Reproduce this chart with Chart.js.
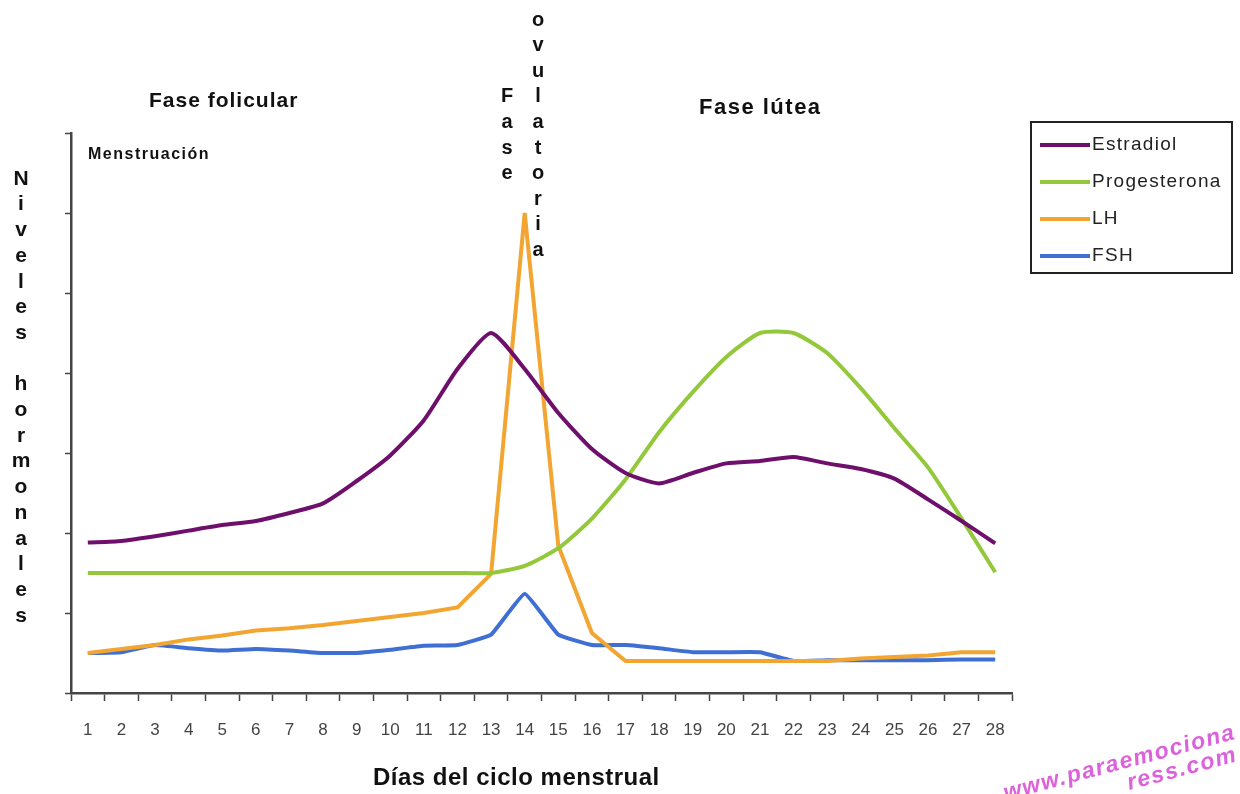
<!DOCTYPE html>
<html>
<head>
<meta charset="utf-8">
<script src="https://cdn.jsdelivr.net/npm/chart.js@4.4.1/dist/chart.umd.min.js"></script>
<style>
    html, body { margin: 0; padding: 0; background: #fff; }
    #wrap { width: 1240px; height: 794px; }
</style>
</head>
<body>
<div id="wrap"><canvas id="hormonas" width="1240" height="794"></canvas></div>
<script>
const days = ['1','2','3','4','5','6','7','8','9','10','11','12','13','14','15','16','17','18','19','20','21','22','23','24','25','26','27','28'];

const estradiol = [1.88, 1.9, 1.96, 2.03, 2.1, 2.15, 2.25, 2.37, 2.65, 2.97, 3.41, 4.05, 4.5, 4.05,
                   3.5, 3.05, 2.75, 2.62, 2.75, 2.87, 2.9, 2.95, 2.87, 2.8, 2.68, 2.42, 2.15, 1.87];
const progesterona = [1.5, 1.5, 1.5, 1.5, 1.5, 1.5, 1.5, 1.5, 1.5, 1.5, 1.5, 1.5, 1.5, 1.59,
                      1.81, 2.18, 2.67, 3.26, 3.76, 4.2, 4.5, 4.5, 4.25, 3.81, 3.31, 2.82, 2.18, 1.51];
const lh = [0.5, 0.55, 0.6, 0.67, 0.72, 0.78, 0.81, 0.85, 0.9, 0.95, 1.0, 1.07, 1.49, 6.0,
            1.84, 0.75, 0.4, 0.4, 0.4, 0.4, 0.4, 0.4, 0.4, 0.43, 0.45, 0.47, 0.51, 0.51];
const fsh = [0.5, 0.51, 0.6, 0.56, 0.53, 0.55, 0.53, 0.5, 0.5, 0.54, 0.59, 0.6, 0.73, 1.24,
             0.73, 0.6, 0.6, 0.56, 0.51, 0.51, 0.51, 0.4, 0.41, 0.41, 0.41, 0.41, 0.42, 0.42];

const seriesLabels = ['Estradiol', 'Progesterona', 'LH', 'FSH'];
const seriesColors = ['#6e0f6c', '#93c83a', '#f2a531', '#3f6fd2'];
const seriesData = [estradiol, progesterona, lh, fsh];
const seriesTension = [0.2, 0.2, 0, 0.1];

const FONT = 'Arial, "Liberation Sans"';

// Texts drawn on top of the chart (titles, stacked letters, legend)
const textPlugin = {
    id: 'textPlugin',
    afterDraw(chart)
    {
        const { ctx } = chart;
        ctx.save();
        ctx.fillStyle = '#111';
        ctx.textAlign = 'left';
        ctx.textBaseline = 'middle';

        ctx.font = 'bold 21px ' + FONT;
        ctx.letterSpacing = '1px';
        ctx.fillText('Fase folicular', 149, 101);
        ctx.font = 'bold 22px ' + FONT;
        ctx.letterSpacing = '1.5px';
        ctx.fillText('Fase lútea', 699, 108);

        ctx.font = 'bold 16px ' + FONT;
        ctx.letterSpacing = '1.5px';
        ctx.fillText('Menstruación', 88, 155);
        ctx.letterSpacing = '0px';

        // vertical stacked y title
        ctx.textAlign = 'center';
        ctx.font = 'bold 21px ' + FONT;
        const yTitle = 'Niveles hormonales';
        for (let i = 0; i < yTitle.length; i++)
        {
            ctx.fillText(yTitle[i], 21, 179 + i * 25.7);
        }

        // vertical "Fase ovulatoria"
        ctx.font = 'bold 20px ' + FONT;
        const ovu = 'ovulatoria';
        for (let i = 0; i < ovu.length; i++)
        {
            ctx.fillText(ovu[i], 538, 20 + i * 25.6);
        }
        const fase = 'Fase';
        for (let i = 0; i < fase.length; i++)
        {
            ctx.fillText(fase[i], 507, 20 + (i + 3) * 25.6);
        }

        // x title
        ctx.textAlign = 'left';
        ctx.font = 'bold 24px ' + FONT;
        ctx.letterSpacing = '0.5px';
        ctx.fillText('Días del ciclo menstrual', 373, 778);

        // legend box
        ctx.strokeStyle = '#222';
        ctx.lineWidth = 2;
        ctx.strokeRect(1031, 122, 201, 151);
        ctx.font = '19px ' + FONT;
        ctx.letterSpacing = '1.3px';
        const rows = [145, 182, 219, 256];
        chart.data.datasets.forEach((ds, i) =>
        {
            ctx.strokeStyle = ds.borderColor;
            ctx.lineWidth = 4;
            ctx.beginPath();
            ctx.moveTo(1040, rows[i]);
            ctx.lineTo(1090, rows[i]);
            ctx.stroke();
            ctx.fillStyle = '#222';
            ctx.fillText(ds.label, 1092, rows[i]);
        });

        // watermark
        ctx.letterSpacing = '1.5px';
        ctx.translate(1004, 794);
        ctx.rotate(-0.26);
        ctx.fillStyle = 'rgba(214, 70, 214, 0.85)';
        ctx.font = 'italic bold 23px ' + FONT;
        ctx.fillText('www.paraemociona', 0, 0);
        ctx.fillText('ress.com', 122, 22);

        ctx.restore();
    }
};

const ctx = document.getElementById('hormonas').getContext('2d');

new Chart(ctx, {
    type: 'line',
    data: {
        labels: days,
        datasets: seriesLabels.map((label, index) => ({
            label: label,
            data: seriesData[index],
            borderColor: seriesColors[index],
            backgroundColor: seriesColors[index],
            borderWidth: 4,
            tension: seriesTension[index],
            pointRadius: 0,
            fill: false
        }))
    },
    options: {
        responsive: false,
        animation: false,
        layout: {
            padding: { left: 51, right: 228, top: 133, bottom: 41 }
        },
        plugins: {
            legend: { display: false },
            tooltip: { enabled: false },
            title: { display: false }
        },
        scales: {
            x: {
                offset: true,
                afterFit: (scale) => { scale.height = 60; },
                border: { display: true, color: '#444', width: 2.5 },
                grid: {
                    display: true,
                    drawOnChartArea: false,
                    drawTicks: true,
                    tickLength: 8,
                    tickWidth: 1.5,
                    tickColor: '#444',
                    offset: true
                },
                ticks: {
                    color: '#444',
                    padding: 19,
                    maxRotation: 0,
                    autoSkip: false,
                    font: { family: '"Liberation Sans Narrow", "Arial Narrow", Arial', size: 17 }
                }
            },
            y: {
                min: 0,
                max: 7,
                afterFit: (scale) => { scale.width = 20; },
                border: { display: true, color: '#444', width: 2.5 },
                grid: {
                    display: true,
                    drawOnChartArea: false,
                    drawTicks: true,
                    tickLength: 6,
                    tickWidth: 1.5,
                    tickColor: '#444'
                },
                ticks: {
                    stepSize: 1,
                    callback: () => ''
                }
            }
        }
    },
    plugins: [textPlugin]
});
</script>
</body>
</html>
